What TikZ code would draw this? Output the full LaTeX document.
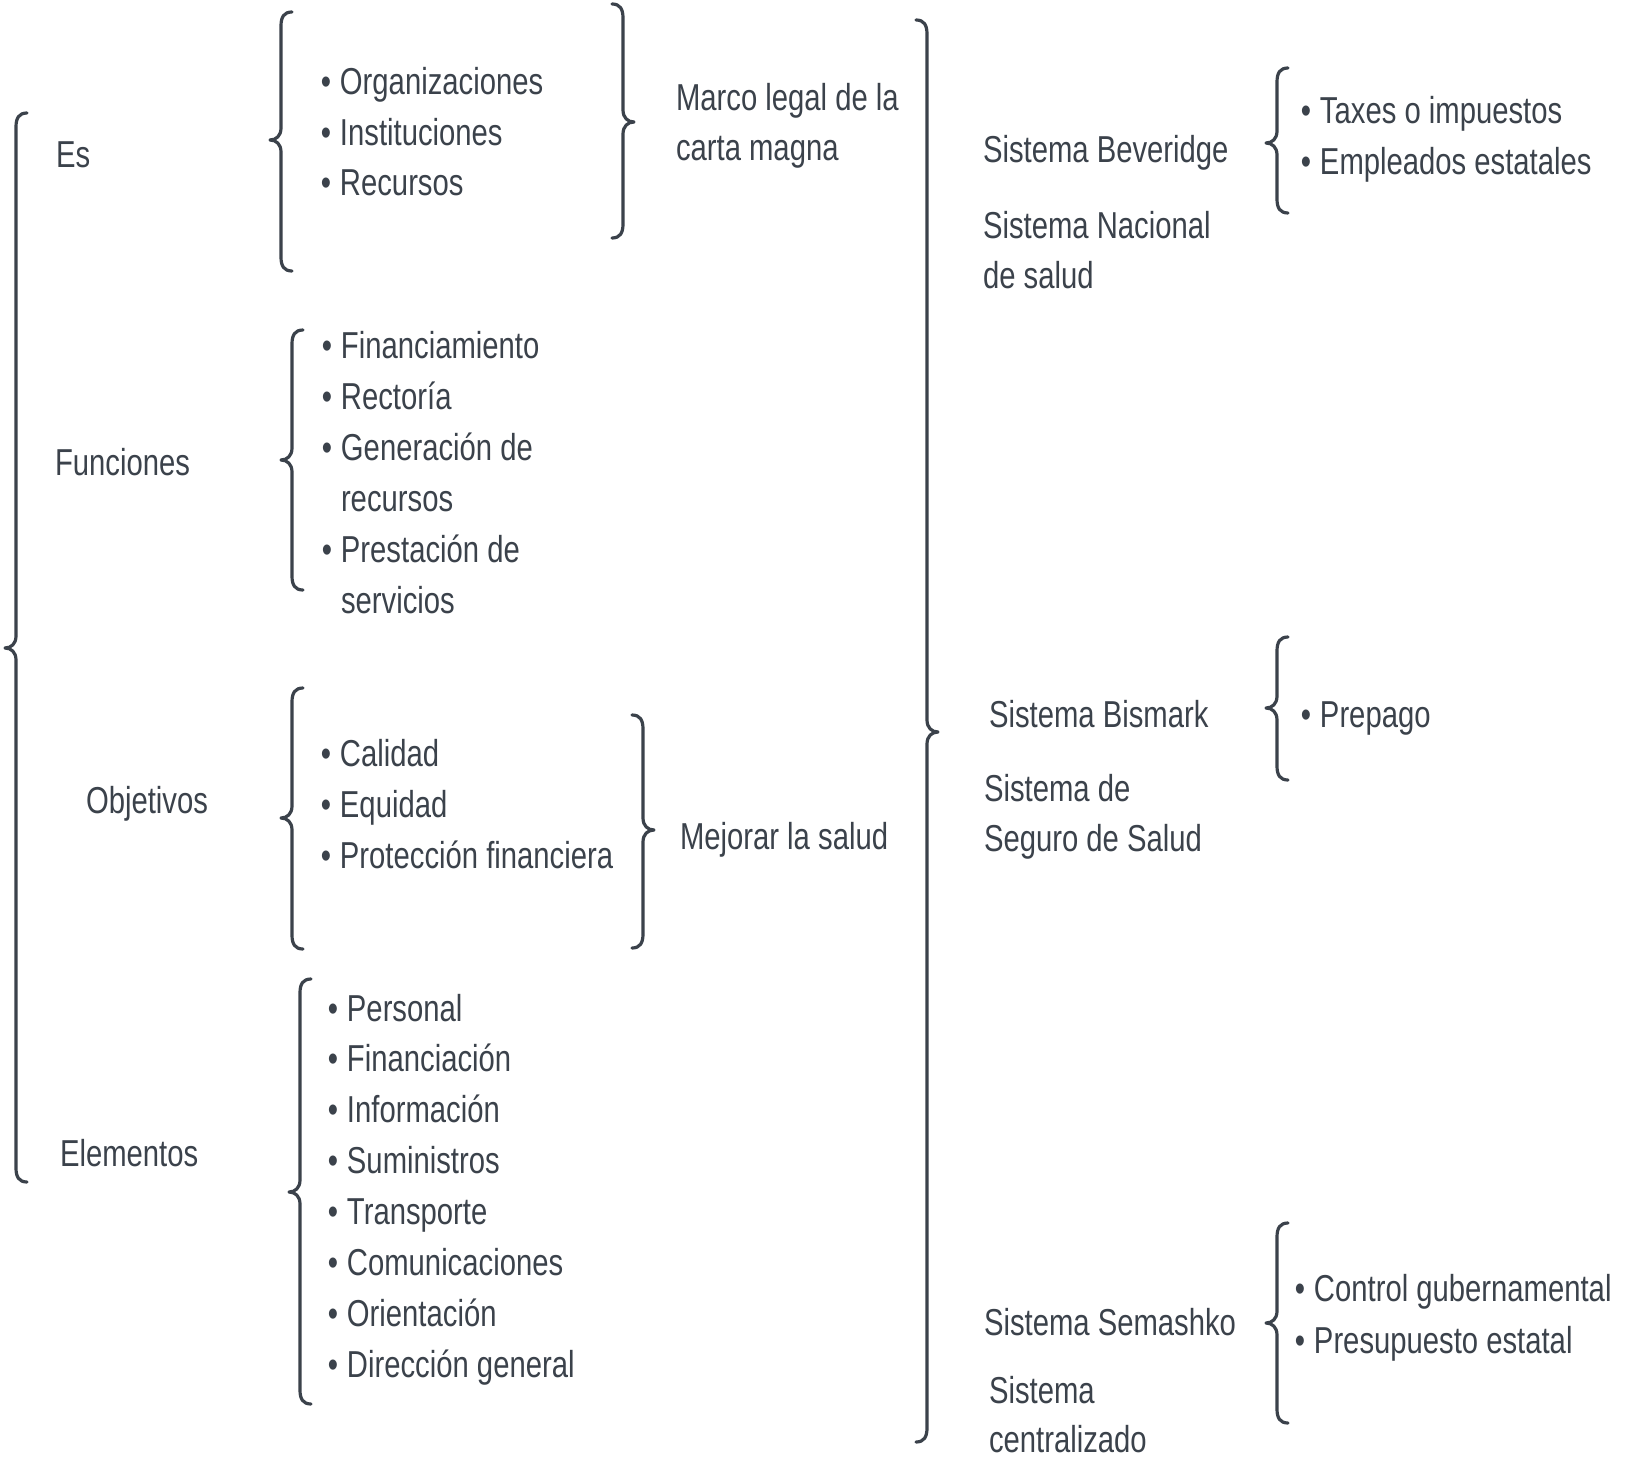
\documentclass[tikz,border=0pt]{standalone}
\usepackage{fontspec}
\setmainfont{Liberation Sans}[FakeStretch=0.78]
\definecolor{ink}{HTML}{3B424B}
\newcommand\itm[1]{\hbox{\llap{\textbullet\hskip9pt}#1}}
\newcommand\lin[1]{\hbox{#1}}
\newcommand\stk[2]{\vtop{\baselineskip=#1pt\relax #2}}
\newcommand\LBr[4]{%
 \draw[bracestyle] ({#1+11},#2) .. controls ({#1+3},#2) and (#1,{#2+5}) .. (#1,{#2+14})
  -- (#1,{#4-12}) .. controls (#1,{#4-4}) and ({#1-5},#4) .. ({#1-11},#4)
  .. controls ({#1-5},#4) and (#1,{#4+4}) .. (#1,{#4+12})
  -- (#1,{#3-14}) .. controls (#1,{#3-5}) and ({#1+3},#3) .. ({#1+11},#3);}
\newcommand\RBr[4]{%
 \draw[bracestyle] ({#1-11},#2) .. controls ({#1-3},#2) and (#1,{#2+5}) .. (#1,{#2+14})
  -- (#1,{#4-12}) .. controls (#1,{#4-4}) and ({#1+5},#4) .. ({#1+11},#4)
  .. controls ({#1+5},#4) and (#1,{#4+4}) .. (#1,{#4+12})
  -- (#1,{#3-14}) .. controls (#1,{#3-5}) and ({#1-3},#3) .. ({#1-11},#3);}
\tikzset{
  bracestyle/.style={draw=ink, line width=3.2pt, line cap=round, line join=round},
  txt/.style={anchor=base west, inner sep=0pt, outer sep=0pt, text=ink,
    font=\fontsize{37.5}{51}\selectfont}
}
\begin{document}
\begin{tikzpicture}[x=1pt,y=-1pt]
\useasboundingbox (0,0) rectangle (1633,1458);
\fill[white] (0,0) rectangle (1633,1458);
% ---- left column braces
\LBr{16}{113}{1182}{648}
\LBr{281}{12}{271}{140}
\RBr{623}{4}{238}{122}
\LBr{292}{330}{590}{460}
\LBr{292}{688}{949}{818}
\RBr{643}{715}{948}{830}
\LBr{300}{979}{1404}{1192}
% ---- middle big brace
\RBr{927}{20}{1442}{732}
% ---- right braces
\LBr{1277}{68}{213}{143}
\LBr{1277}{637}{780}{708}
\LBr{1277}{1223}{1423}{1323}
% ---- left labels
\node[txt] (es) at (56,168) {Es};
\node[txt] (fun) at (55,475) {Funciones};
\node[txt] (obj) at (86,813) {Objetivos};
\node[txt] (ele) at (60,1166) {Elementos};
% ---- lists
\node[txt] (esl) at (340,95) {\stk{50.5}{\itm{Organizaciones}\itm{Instituciones}\itm{Recursos}}};
\node[txt] (funl) at (341,358) {\stk{51}{\itm{Financiamiento}\itm{Rectoría}\itm{Generación de}\lin{recursos}\itm{Prestación de}\lin{servicios}}};
\node[txt] (objl) at (340,766) {\stk{51}{\itm{Calidad}\itm{Equidad}\itm{Protección financiera}}};
\node[txt] (elel) at (347,1021) {\stk{50.9}{\itm{Personal}\itm{Financiación}\itm{Información}\itm{Suministros}\itm{Transporte}\itm{Comunicaciones}\itm{Orientación}\itm{Dirección general}}};
% ---- middle texts
\node[txt] (marco) at (676,111) {\stk{50}{\lin{Marco legal de la}\lin{carta magna}}};
\node[txt] (mejorar) at (680,849) {Mejorar la salud};
% ---- right texts
\node[txt] (bev) at (983,163) {Sistema Beveridge};
\node[txt] (nac) at (983,239) {\stk{50}{\lin{Sistema Nacional}\lin{de salud}}};
\node[txt] (bevl) at (1320,124) {\stk{51}{\itm{Taxes o impuestos}\itm{Empleados estatales}}};
\node[txt] (bis) at (989,727) {Sistema Bismark};
\node[txt] (seg) at (984,801) {\stk{50}{\lin{Sistema de}\lin{Seguro de Salud}}};
\node[txt] (bisl) at (1320,727) {\stk{51}{\itm{Prepago}}};
\node[txt] (sem) at (984,1335) {Sistema Semashko};
\node[txt] (cen) at (989,1403) {\stk{49}{\lin{Sistema}\lin{centralizado}}};
\node[txt] (seml) at (1314,1301) {\stk{52}{\itm{Control gubernamental}\itm{Presupuesto estatal}}};
\end{tikzpicture}
\end{document}
